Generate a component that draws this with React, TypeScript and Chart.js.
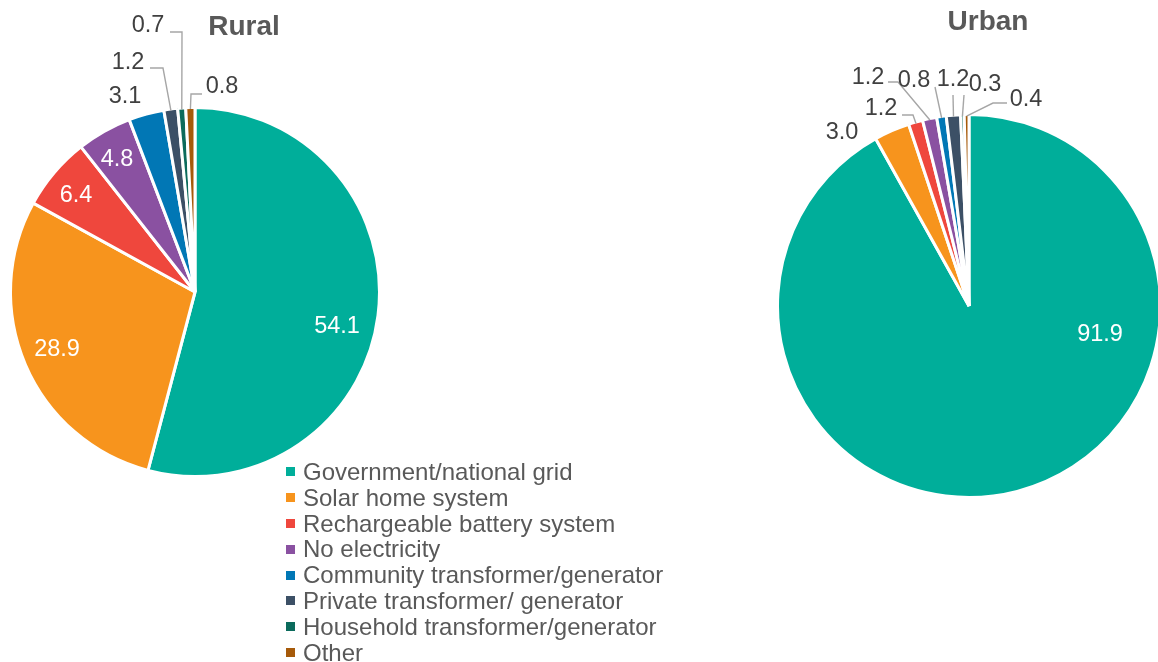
import React, { useEffect, useRef } from "react";
import { Chart, registerables } from "chart.js";

Chart.register(...registerables);

const categories = [
  "Government/national grid",
  "Solar home system",
  "Rechargeable battery system",
  "No electricity",
  "Community transformer/generator",
  "Private transformer/ generator",
  "Household transformer/generator",
  "Other",
];

const ruralValues = [54.1, 28.9, 6.4, 4.8, 3.1, 1.2, 0.7, 0.8];
const urbanValues = [91.9, 3.0, 1.2, 1.2, 0.8, 1.2, 0.3, 0.4];

const sliceColors = [
  "#00AE9A",
  "#F7941D",
  "#EF473D",
  "#8A51A1",
  "#0177B5",
  "#3C5066",
  "#0B6B5C",
  "#A65A0A",
];

type LabelSpot = {
  dx: number;
  dy: number;
  inside?: boolean;
  start?: [number, number];
  elbow?: [number, number];
};

// label positions relative to the pie centre
const ruralLabelSpots: LabelSpot[] = [
  { dx: 142, dy: 33, inside: true },
  { dx: -138, dy: 56, inside: true },
  { dx: -119, dy: -98, inside: true },
  { dx: -78, dy: -134, inside: true },
  { dx: -70, dy: -197 },
  { dx: -67, dy: -231, start: [-45, -224], elbow: [-32, -224] },
  { dx: -47, dy: -268, start: [-25, -260], elbow: [-13, -260] },
  { dx: 27, dy: -207, start: [7, -198], elbow: [-4, -198] },
];

const urbanLabelSpots: LabelSpot[] = [
  { dx: 131, dy: 27, inside: true },
  { dx: -127, dy: -175 },
  { dx: -88, dy: -199, start: [-67, -191], elbow: [-56, -191] },
  { dx: -101, dy: -230, start: [-81, -224], elbow: [-71, -224] },
  { dx: -55, dy: -227, start: [-34, -219] },
  { dx: -16, dy: -228, start: [-16, -211] },
  { dx: 16, dy: -223, start: [-5, -211] },
  { dx: 57, dy: -208, start: [38, -203], elbow: [24, -203] },
];

const FONT = "'Liberation Sans', Arial, sans-serif";
const LABEL_SIZE = 23.5;

const pieLabelPlugin = {
  id: "pieLabels",
  afterDatasetsDraw(chart: any, _args: any, opts: any) {
    const ctx: CanvasRenderingContext2D = chart.ctx;
    const meta = chart.getDatasetMeta(0);
    const values: number[] = chart.data.datasets[0].data;
    const spots: LabelSpot[] = opts.spots || [];
    ctx.save();
    meta.data.forEach((arc: any, i: number) => {
      const p = arc.getProps(["x", "y", "startAngle", "endAngle", "outerRadius"], true);
      const s = spots[i];
      if (!s) return;
      if (s.start) {
        const mid = (p.startAngle + p.endAngle) / 2;
        const r = p.outerRadius - 1.5;
        ctx.beginPath();
        ctx.strokeStyle = "#A6A6A6";
        ctx.lineWidth = 1.4;
        ctx.moveTo(p.x + s.start[0], p.y + s.start[1]);
        if (s.elbow) ctx.lineTo(p.x + s.elbow[0], p.y + s.elbow[1]);
        ctx.lineTo(p.x + Math.cos(mid) * r, p.y + Math.sin(mid) * r);
        ctx.stroke();
      }
      ctx.font = `${LABEL_SIZE}px ${FONT}`;
      ctx.textAlign = "center";
      ctx.textBaseline = "alphabetic";
      ctx.fillStyle = s.inside ? "#FFFFFF" : "#404040";
      ctx.fillText(values[i].toFixed(1), p.x + s.dx, p.y + s.dy + LABEL_SIZE * 0.358);
    });
    if (opts.title) {
      ctx.font = `bold 28px ${FONT}`;
      ctx.fillStyle = "#595959";
      ctx.textAlign = "center";
      ctx.textBaseline = "alphabetic";
      ctx.fillText(opts.title, opts.titleX, opts.titleY);
    }
    ctx.restore();
  },
};

function makePie(
  canvas: HTMLCanvasElement,
  values: number[],
  radius: number,
  padding: { left: number; right: number; top: number; bottom: number },
  spots: LabelSpot[],
  title: string,
  titleX: number,
  titleY: number
) {
  return new Chart(canvas, {
    type: "pie",
    data: {
      labels: categories,
      datasets: [
        {
          data: values,
          backgroundColor: sliceColors,
          borderColor: "#FFFFFF",
          borderWidth: 3,
          clip: false,
        } as any,
      ],
    },
    options: {
      responsive: false,
      animation: false,
      events: [],
      radius,
      layout: { padding },
      plugins: {
        legend: { display: false },
        tooltip: { enabled: false },
        title: { display: false },
        pieLabels: { spots, title, titleX, titleY },
      } as any,
    } as any,
    plugins: [pieLabelPlugin as any],
  });
}

export default function App() {
  const ruralRef = useRef<HTMLCanvasElement>(null);
  const urbanRef = useRef<HTMLCanvasElement>(null);

  useEffect(() => {
    const rural = makePie(
      ruralRef.current!,
      ruralValues,
      184.5,
      { left: 11, right: 779, top: 108, bottom: 186 },
      ruralLabelSpots,
      "Rural",
      244,
      35
    );
    const urban = makePie(
      urbanRef.current!,
      urbanValues,
      191.5,
      { left: 780, right: 0, top: 117, bottom: 167 },
      urbanLabelSpots,
      "Urban",
      988,
      30
    );
    return () => {
      rural.destroy();
      urban.destroy();
    };
  }, []);

  const canvasStyle: React.CSSProperties = {
    position: "absolute",
    left: 0,
    top: 0,
  };

  return (
    <div
      style={{
        position: "fixed",
        left: 0,
        top: 0,
        width: 1158,
        height: 662,
        background: "#FFFFFF",
        overflow: "hidden",
      }}
    >
      <canvas ref={ruralRef} width={1158} height={662} style={canvasStyle} />
      <canvas ref={urbanRef} width={1158} height={662} style={canvasStyle} />
      <div
        style={{
          position: "absolute",
          left: 286,
          top: 459,
          fontFamily: FONT,
          fontSize: 24,
          lineHeight: "25.8px",
          color: "#595959",
          whiteSpace: "nowrap",
        }}
      >
        {categories.map((c, i) => (
          <div key={c} style={{ display: "flex", alignItems: "center", height: 25.8 }}>
            <span
              style={{
                display: "inline-block",
                width: 9,
                height: 9,
                background: sliceColors[i],
                marginRight: 8,
              }}
            />
            <span>{c}</span>
          </div>
        ))}
      </div>
    </div>
  );
}
